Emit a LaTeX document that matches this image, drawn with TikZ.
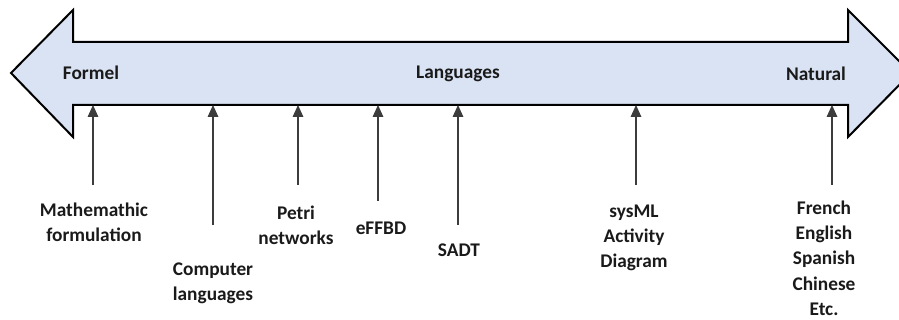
\documentclass[tikz,border=0pt]{standalone}
\usepackage{fontspec}
\setmainfont{Carlito}
\usetikzlibrary{arrows.meta}

\tikzset{every picture/.style={line width=0.75pt}}
\tikzset{
  label/.style={inner sep=0pt,align=center,font=\bfseries\fontsize{14.5}{19}\selectfont,text={rgb,255:red,26;green,26;blue,26}},
  pointer/.style={draw={rgb,255:red,60;green,60;blue,60},line width=0.8pt,-{Triangle[length=9pt,width=8pt]}}
}

\begin{document}
\begin{tikzpicture}[x=0.75pt,y=0.75pt,yscale=-1,xscale=1]
\clip (0,0) rectangle (899,320);

%Double Arrow [id:scale]
\draw [line width=1.5pt,fill={rgb, 255:red, 218; green, 227; blue, 243 }  ,fill opacity=1 ] (11,73) -- (73,10) -- (73,42) -- (848,42) -- (848,10) -- (911,73) -- (848,137) -- (848,105) -- (73,105) -- (73,137) -- cycle ;
\coordinate (shaft) at (0,105);

% Text Node
\node (formel) [label] at (91,73) {Formel};
% Text Node
\node (languages) [label] at (458,74) {Languages};
% Text Node
\node (natural) [label] at (816,74) {Natural};

% Text Node
\node (math) [label] at (94,222) {Mathemathic\\formulation};
% Text Node
\node (comp) [label] at (213,283) {Computer\\languages};
% Text Node
\node (petri) [label] at (296,225) {Petri\\networks};
% Text Node
\node (effbd) [label] at (381,228) {eFFBD};
% Text Node
\node (sadt) [label] at (459,250) {SADT};
% Text Node
\node (sysml) [label] at (634,238) {sysML\\Activity\\Diagram};
% Text Node
\node (natlang) [label] at (824,258) {French\\English\\Spanish\\Chinese\\Etc.};

%Straight Lines
\coordinate (mathtail) at (93,185);
\coordinate (comptail) at (213,225);
\coordinate (petritail) at (298,185);
\coordinate (effbdtail) at (378,201);
\coordinate (sadttail) at (458,225);
\coordinate (sysmltail) at (636,185);
\coordinate (natlangtail) at (832,185);

\draw [pointer] (mathtail) -- (mathtail |- shaft);
\draw [pointer] (comptail) -- (comptail |- shaft);
\draw [pointer] (petritail) -- (petritail |- shaft);
\draw [pointer] (effbdtail) -- (effbdtail |- shaft);
\draw [pointer] (sadttail) -- (sadttail |- shaft);
\draw [pointer] (sysmltail) -- (sysmltail |- shaft);
\draw [pointer] (natlangtail) -- (natlangtail |- shaft);

\end{tikzpicture}
\end{document}
